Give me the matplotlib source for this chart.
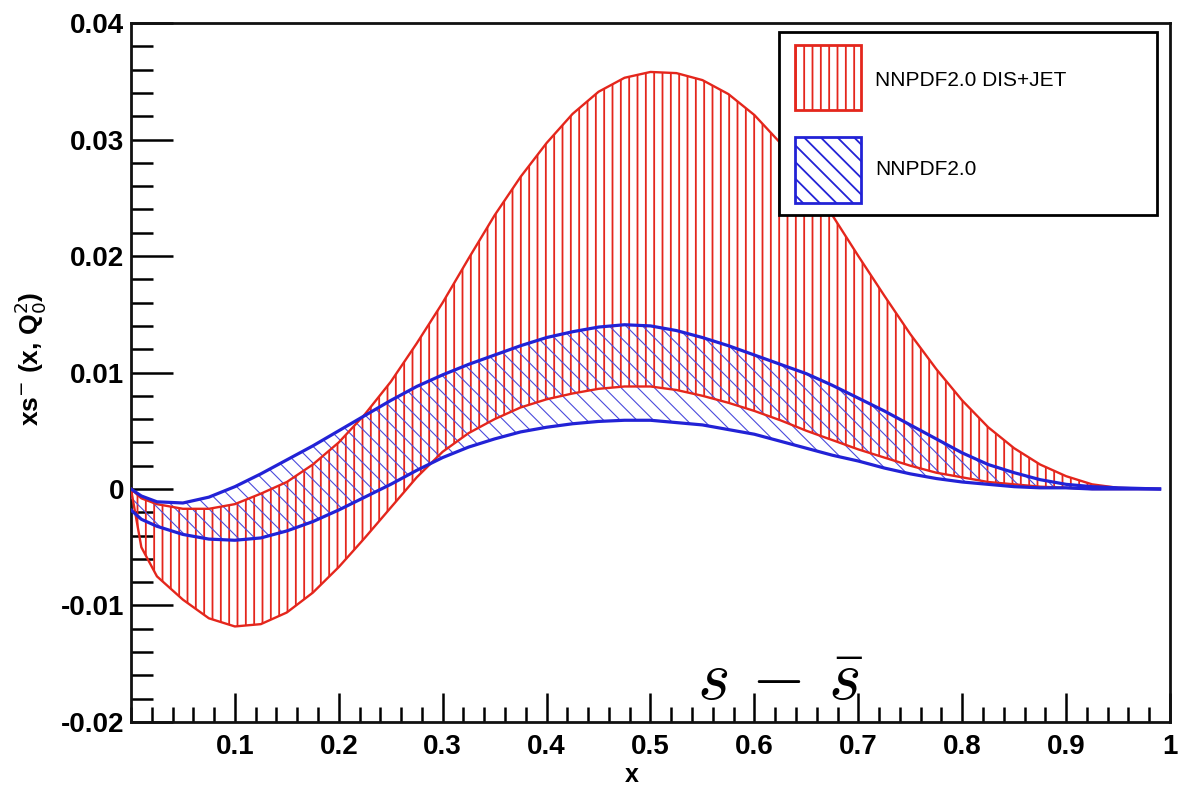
import numpy as np
import matplotlib
matplotlib.use("Agg")
import matplotlib.pyplot as plt
from matplotlib.patches import Rectangle
from matplotlib.ticker import MultipleLocator, FixedLocator

# ---------------- data ----------------
x_grid = [0.0, 0.01, 0.025, 0.05, 0.075, 0.1, 0.125, 0.15, 0.175, 0.2, 0.225, 0.25,
          0.275, 0.3, 0.325, 0.35, 0.375, 0.4, 0.425, 0.45, 0.475, 0.5, 0.525, 0.55,
          0.575, 0.6, 0.625, 0.65, 0.675, 0.7, 0.725, 0.75, 0.775, 0.8, 0.825, 0.85,
          0.875, 0.9, 0.925, 0.95, 0.99]

red_upper = [0.0, -0.0008, -0.0013, -0.0017, -0.0017, -0.0013, -0.0004, 0.0006, 0.0021, 0.0040,
             0.0064, 0.0092, 0.0125, 0.0160, 0.0198, 0.0235, 0.0268, 0.0297, 0.0322, 0.0341,
             0.0353, 0.0358, 0.0357, 0.0351, 0.0339, 0.0321, 0.0297, 0.0268, 0.0235, 0.0200,
             0.0166, 0.0133, 0.0103, 0.0076, 0.0053, 0.0035, 0.0021, 0.0011, 0.0004, 0.0001, 0.0]
red_lower = [0.0, -0.0050, -0.0075, -0.0095, -0.0111, -0.0118, -0.0116, -0.0106, -0.0089, -0.0067,
             -0.0042, -0.0016, 0.0010, 0.0032, 0.0048, 0.0060, 0.0070, 0.0077, 0.0082, 0.0086,
             0.0088, 0.0088, 0.0085, 0.0080, 0.0074, 0.0067, 0.0059, 0.0050, 0.0042, 0.0034,
             0.0027, 0.0020, 0.0014, 0.0010, 0.0006, 0.0004, 0.0002, 0.0001, 0.0, 0.0, 0.0]
blue_upper = [0.0, -0.0006, -0.0011, -0.0012, -0.0007, 0.0002, 0.0013, 0.0025, 0.0037, 0.0050,
              0.0063, 0.0076, 0.0088, 0.0098, 0.0107, 0.0115, 0.0123, 0.0130, 0.0135, 0.0139,
              0.0141, 0.0140, 0.0136, 0.0130, 0.0123, 0.0115, 0.0107, 0.0099, 0.0089, 0.0078,
              0.0067, 0.0055, 0.0043, 0.0031, 0.0021, 0.0014, 0.0008, 0.0004, 0.0002, 0.0001, 0.0]
blue_lower = [-0.0018, -0.0026, -0.0032, -0.0039, -0.0043, -0.0044, -0.0042, -0.0036, -0.0028, -0.0018,
              -0.0007, 0.0004, 0.0016, 0.0027, 0.0036, 0.0043, 0.0049, 0.0053, 0.0056, 0.0058,
              0.0059, 0.0059, 0.0057, 0.0055, 0.0051, 0.0047, 0.0041, 0.0035, 0.0029, 0.0024,
              0.0018, 0.0013, 0.0009, 0.0006, 0.0004, 0.0002, 0.0001, 0.0001, 0.0, 0.0, 0.0]

x_tick_vals = [0.1, 0.2, 0.3, 0.4, 0.5, 0.6, 0.7, 0.8, 0.9, 1.0]
x_tick_labels = ["0.1", "0.2", "0.3", "0.4", "0.5", "0.6", "0.7", "0.8", "0.9", "1"]
y_tick_vals = [-0.02, -0.01, 0.0, 0.01, 0.02, 0.03, 0.04]
y_tick_labels = ["-0.02", "-0.01", "0", "0.01", "0.02", "0.03", "0.04"]
legend_labels = ["NNPDF2.0 DIS+JET", "NNPDF2.0"]

RED = "#e4261c"
BLUE = "#2222d6"

plt.rcParams["font.family"] = ["Liberation Sans", "DejaVu Sans"]
plt.rcParams["hatch.linewidth"] = 1.3

fig = plt.figure(figsize=(11.95, 7.94), dpi=100)
ax = fig.add_axes([0.1096, 0.0907, 0.8695, 0.8803])

xg = np.array(x_grid)
ax.fill_between(xg, red_lower, red_upper, facecolor="none", edgecolor=RED,
                hatch="||", linewidth=0, zorder=2)
with plt.rc_context({"hatch.linewidth": 0.8}):
    bfill = ax.fill_between(xg, blue_lower, blue_upper, facecolor="none",
                            edgecolor="#4b4bdc", hatch="\\\\", linewidth=0, zorder=3)
if hasattr(bfill, "set_hatch_linewidth"):
    bfill.set_hatch_linewidth(0.8)

ax.plot(xg, red_upper, color=RED, lw=1.7, zorder=4, solid_joinstyle="round")
ax.plot(xg, red_lower, color=RED, lw=1.7, zorder=4, solid_joinstyle="round")
ax.plot(xg, blue_upper, color=BLUE, lw=2.3, zorder=5, solid_joinstyle="round")
ax.plot(xg, blue_lower, color=BLUE, lw=2.3, zorder=5, solid_joinstyle="round")

ax.set_xlim(0, 1)
ax.set_ylim(-0.02, 0.04)

ax.xaxis.set_major_locator(FixedLocator(x_tick_vals))
ax.set_xticklabels(x_tick_labels)
ax.xaxis.set_minor_locator(MultipleLocator(0.02))
ax.yaxis.set_major_locator(FixedLocator(y_tick_vals))
ax.set_yticklabels(y_tick_labels)
ax.yaxis.set_minor_locator(MultipleLocator(0.002))

ax.tick_params(axis="x", which="major", direction="in", length=21, width=1.8,
               labelsize=20, pad=9, top=False)
ax.tick_params(axis="x", which="minor", direction="in", length=11, width=1.8, top=False)
ax.tick_params(axis="y", which="major", direction="in", length=30, width=1.8,
               labelsize=20, pad=5, right=False)
ax.tick_params(axis="y", which="minor", direction="in", length=16, width=1.8, right=False)
for lab in ax.get_xticklabels() + ax.get_yticklabels():
    lab.set_fontweight("bold")

for sp in ax.spines.values():
    sp.set_linewidth(2.0)
    sp.set_color("#111111")

ax.set_xlabel("x", fontsize=18, fontweight="bold")
ax.xaxis.set_label_coords(0.482, -0.058)
ax.set_ylabel(r"xs$^{-}$ (x, Q$_{0}^{2}$)", fontsize=19, fontweight="bold",
              math_fontfamily="dejavusans")
ax.yaxis.set_label_coords(-0.08, 0.52)

# annotation
ax.text(0.6245, -0.0181, r"$s\,-\,\bar{s}$", fontsize=50, ha="center",
        va="baseline", math_fontfamily="cm", zorder=6)

# legend box (manual, ROOT style)
ax.add_patch(Rectangle((0.6237, 0.7253), 0.3638, 0.2617, transform=ax.transAxes,
                       facecolor="white", edgecolor="black", lw=2.0, zorder=7))
ax.add_patch(Rectangle((0.639, 0.8755), 0.0636, 0.093, transform=ax.transAxes,
                       facecolor="white", edgecolor=RED, hatch="||", lw=2.0, zorder=8))
lb = Rectangle((0.639, 0.7425), 0.0636, 0.0945, transform=ax.transAxes,
               facecolor="white", edgecolor=BLUE, hatch="\\\\", lw=2.0, zorder=8)
ax.add_patch(lb)
ax.text(0.716, 0.918, legend_labels[0], transform=ax.transAxes, fontsize=15,
        va="center", ha="left", zorder=9)
ax.text(0.716, 0.79, legend_labels[1], transform=ax.transAxes, fontsize=15,
        va="center", ha="left", zorder=9)

fig.savefig("out.png", dpi=100)
